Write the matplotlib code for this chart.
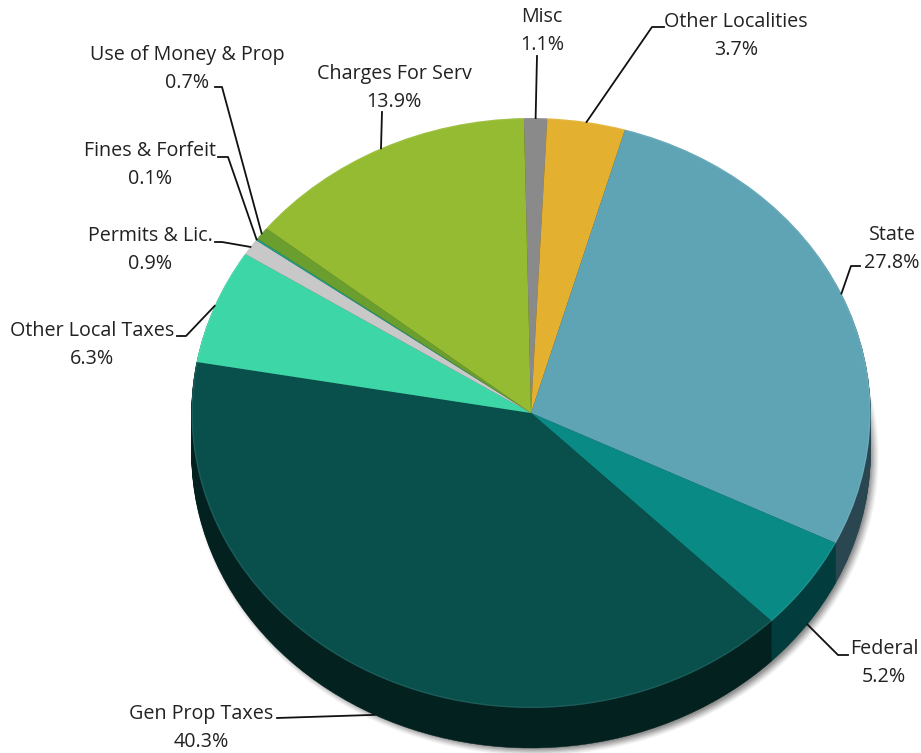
import numpy as np
from matplotlib import pyplot as plt
from matplotlib.patches import Circle

plt.rcParams['font.family'] = ['Open Sans', 'DejaVu Sans']

categories = ['Misc', 'Other Localities', 'State', 'Federal', 'Gen Prop Taxes',
              'Other Local Taxes', 'Permits & Lic.', 'Fines & Forfeit',
              'Use of Money & Prop', 'Charges For Serv']
values = [1.1, 3.7, 27.8, 5.2, 40.3, 6.3, 0.9, 0.1, 0.7, 13.9]
top_colors = ['#8a8a8a', '#e3b02f', '#5fa4b5', '#0a8a85', '#09504d',
              '#3dd6a7', '#c8c8c8', '#1f9e87', '#6a9e2f', '#95bb32']
side_colors = ['#454545', '#6e5515', '#2a4650', '#033c3c', '#03211f',
               '#1c6a52', '#606060', '#0f4f43', '#354f17', '#4a5d19']

# layout in image pixels
W, H = 921, 753
cx, cy, rx, ry = 531, 413, 339.5, 295
depth = 40
start = -1.2  # degrees clockwise from 12 o'clock

# label centre, then knee and end of the leader line
label_pos = [(542, 31), (736, 36), (892, 249), (884, 663), (201, 728),
             (92, 345), (150, 250), (150, 165), (187, 69), (394, 88)]
knees = [(537, 56), (652, 27), (851, 266), (838, 655), (277, 718),
         (186, 336), (222, 242), (228, 157), (222, 87), (382, 112)]
ends = [(537, 56), (664, 27), (860, 266), (848, 655), (277, 718),
        (177, 336), (215, 242), (218, 157), (215, 87), (382, 112)]
on_side = [False, False, False, True, True, False, False, False, False, False]


def px(x, y):
    return (x - cx) / rx, (cy - y) / ry


fig = plt.figure(figsize=(W / 100, H / 100), dpi=100)
ax = fig.add_axes([0, 0, 1, 1])

d = depth / ry
sx, sy = 4 / rx, 4 / ry
for r, a in zip(np.linspace(1.012, 0.99, 6), [0.06, 0.08, 0.1, 0.12, 0.14, 0.16]):
    ax.add_patch(Circle((sx, -d - sy), r, color='#303030', alpha=a, lw=0, zorder=1))

# side wall: the same pie stacked from the bottom up
for off in np.linspace(d, 0.004, 28):
    wedges, _ = ax.pie(values, colors=side_colors, startangle=90 - start, counterclock=False,
                       center=(0, -off), radius=1, frame=True,
                       wedgeprops={'linewidth': 0.3, 'zorder': 2})
    for w, c in zip(wedges, side_colors):
        w.set_edgecolor(c)

wedges, _ = ax.pie(values, colors=top_colors, startangle=90 - start, counterclock=False,
                   radius=1, frame=True, wedgeprops={'linewidth': 0, 'zorder': 3})
ax.add_patch(Circle((0, 0), 0.998, fill=False, ec='white', alpha=0.08, lw=1, zorder=4))

ax.set_aspect('auto')
ax.set_xlim(px(0, 0)[0], px(W, 0)[0])
ax.set_ylim(px(0, H)[1], px(0, 0)[1])
ax.axis('off')

cum = np.cumsum([0] + values)
for i, name in enumerate(categories):
    mid = np.radians(start + (cum[i] + cum[i + 1]) / 2 * 3.6)
    ax_x, ax_y = np.sin(mid), np.cos(mid)
    if on_side[i]:
        ax_y -= d
    kx, ky = px(*knees[i])
    ex, ey = px(*ends[i])
    ax.plot([ax_x, kx, ex], [ax_y, ky, ey], color='#111111', lw=1.3, zorder=5,
            solid_joinstyle='round')
    tx, ty = px(*label_pos[i])
    ax.text(tx, ty, '%s\n%.1f%%' % (name, values[i]), ha='center', va='center',
            fontsize=14.2, color='#222222', linespacing=1.55, zorder=6)

fig.savefig('out.png', dpi=100)
